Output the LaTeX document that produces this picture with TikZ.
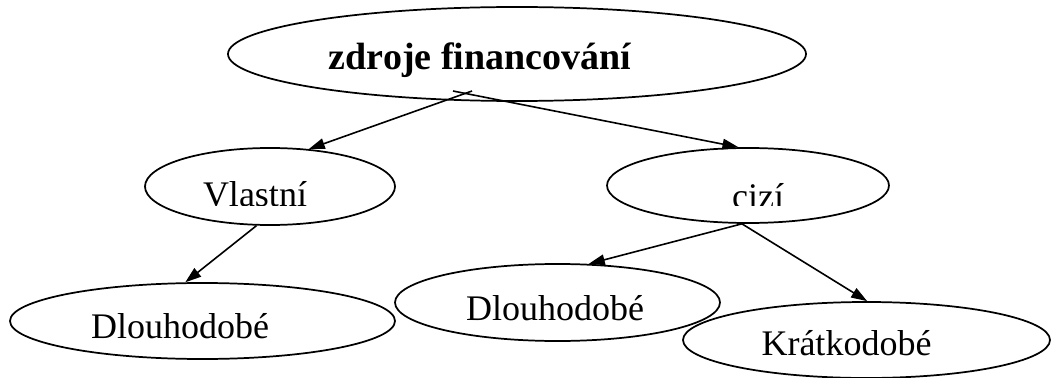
\documentclass[tikz,border=0pt]{standalone}
\usepackage{fontspec}
\setmainfont{Liberation Serif}
\usetikzlibrary{shapes.geometric,arrows.meta}
\begin{document}
\begin{tikzpicture}[x=0.75pt,y=-0.75pt,
  ell/.style={ellipse, draw, line width=1.3pt, inner sep=0pt},
  txt/.style={anchor=base, inner sep=0pt, font=\fontsize{27}{32}\selectfont},
  arr/.style={-{Triangle[length=12pt,width=8pt]}, line width=1.2pt}]
\useasboundingbox (0,0) rectangle (1054,378);

\node[ell, minimum width=433.5pt, minimum height=70.5pt] (z0) at (517,54) {};
\node[txt, font=\fontsize{28.5}{34}\selectfont\bfseries] (z0t) at (480,70) {zdroje financování};

\node[ell, minimum width=187.5pt, minimum height=57.75pt] (v1) at (270,186.5) {};
\node[ell, minimum width=211.5pt, minimum height=56.25pt] (c1) at (748,185.5) {};
\begin{scope}
\clip (140,140) rectangle (900,205);
\node[txt] (v1t) at (255,206) {Vlastní};
\node[txt] (c1t) at (758,209) {cizí};
\end{scope}

\node[ell, minimum width=288.75pt, minimum height=57pt] (d1) at (202.5,321) {};
\node[txt] (d1t) at (180,338) {Dlouhodobé};
\node[ell, minimum width=243.75pt, minimum height=57.75pt] (d2) at (557.5,302.5) {};
\node[txt] (d2t) at (555,320) {Dlouhodobé};
\node[ell, minimum width=275.25pt, minimum height=57pt] (k1) at (866.5,340) {};
\node[txt] (k1t) at (846.5,355) {Krátkodobé};

\coordinate (z0l) at (472,91);
\coordinate (z0r) at (453,91);

\draw[arr] (z0l) -- (v1.44.6);
\draw[arr] (z0r) -- (c1.104.9);
\draw[arr] (v1.251) -- (d1.114.7);
\draw[arr] (c1.261) -- (d2.51.6);
\draw[arr] (c1.261) -- (k1.89);

\end{tikzpicture}
\end{document}
